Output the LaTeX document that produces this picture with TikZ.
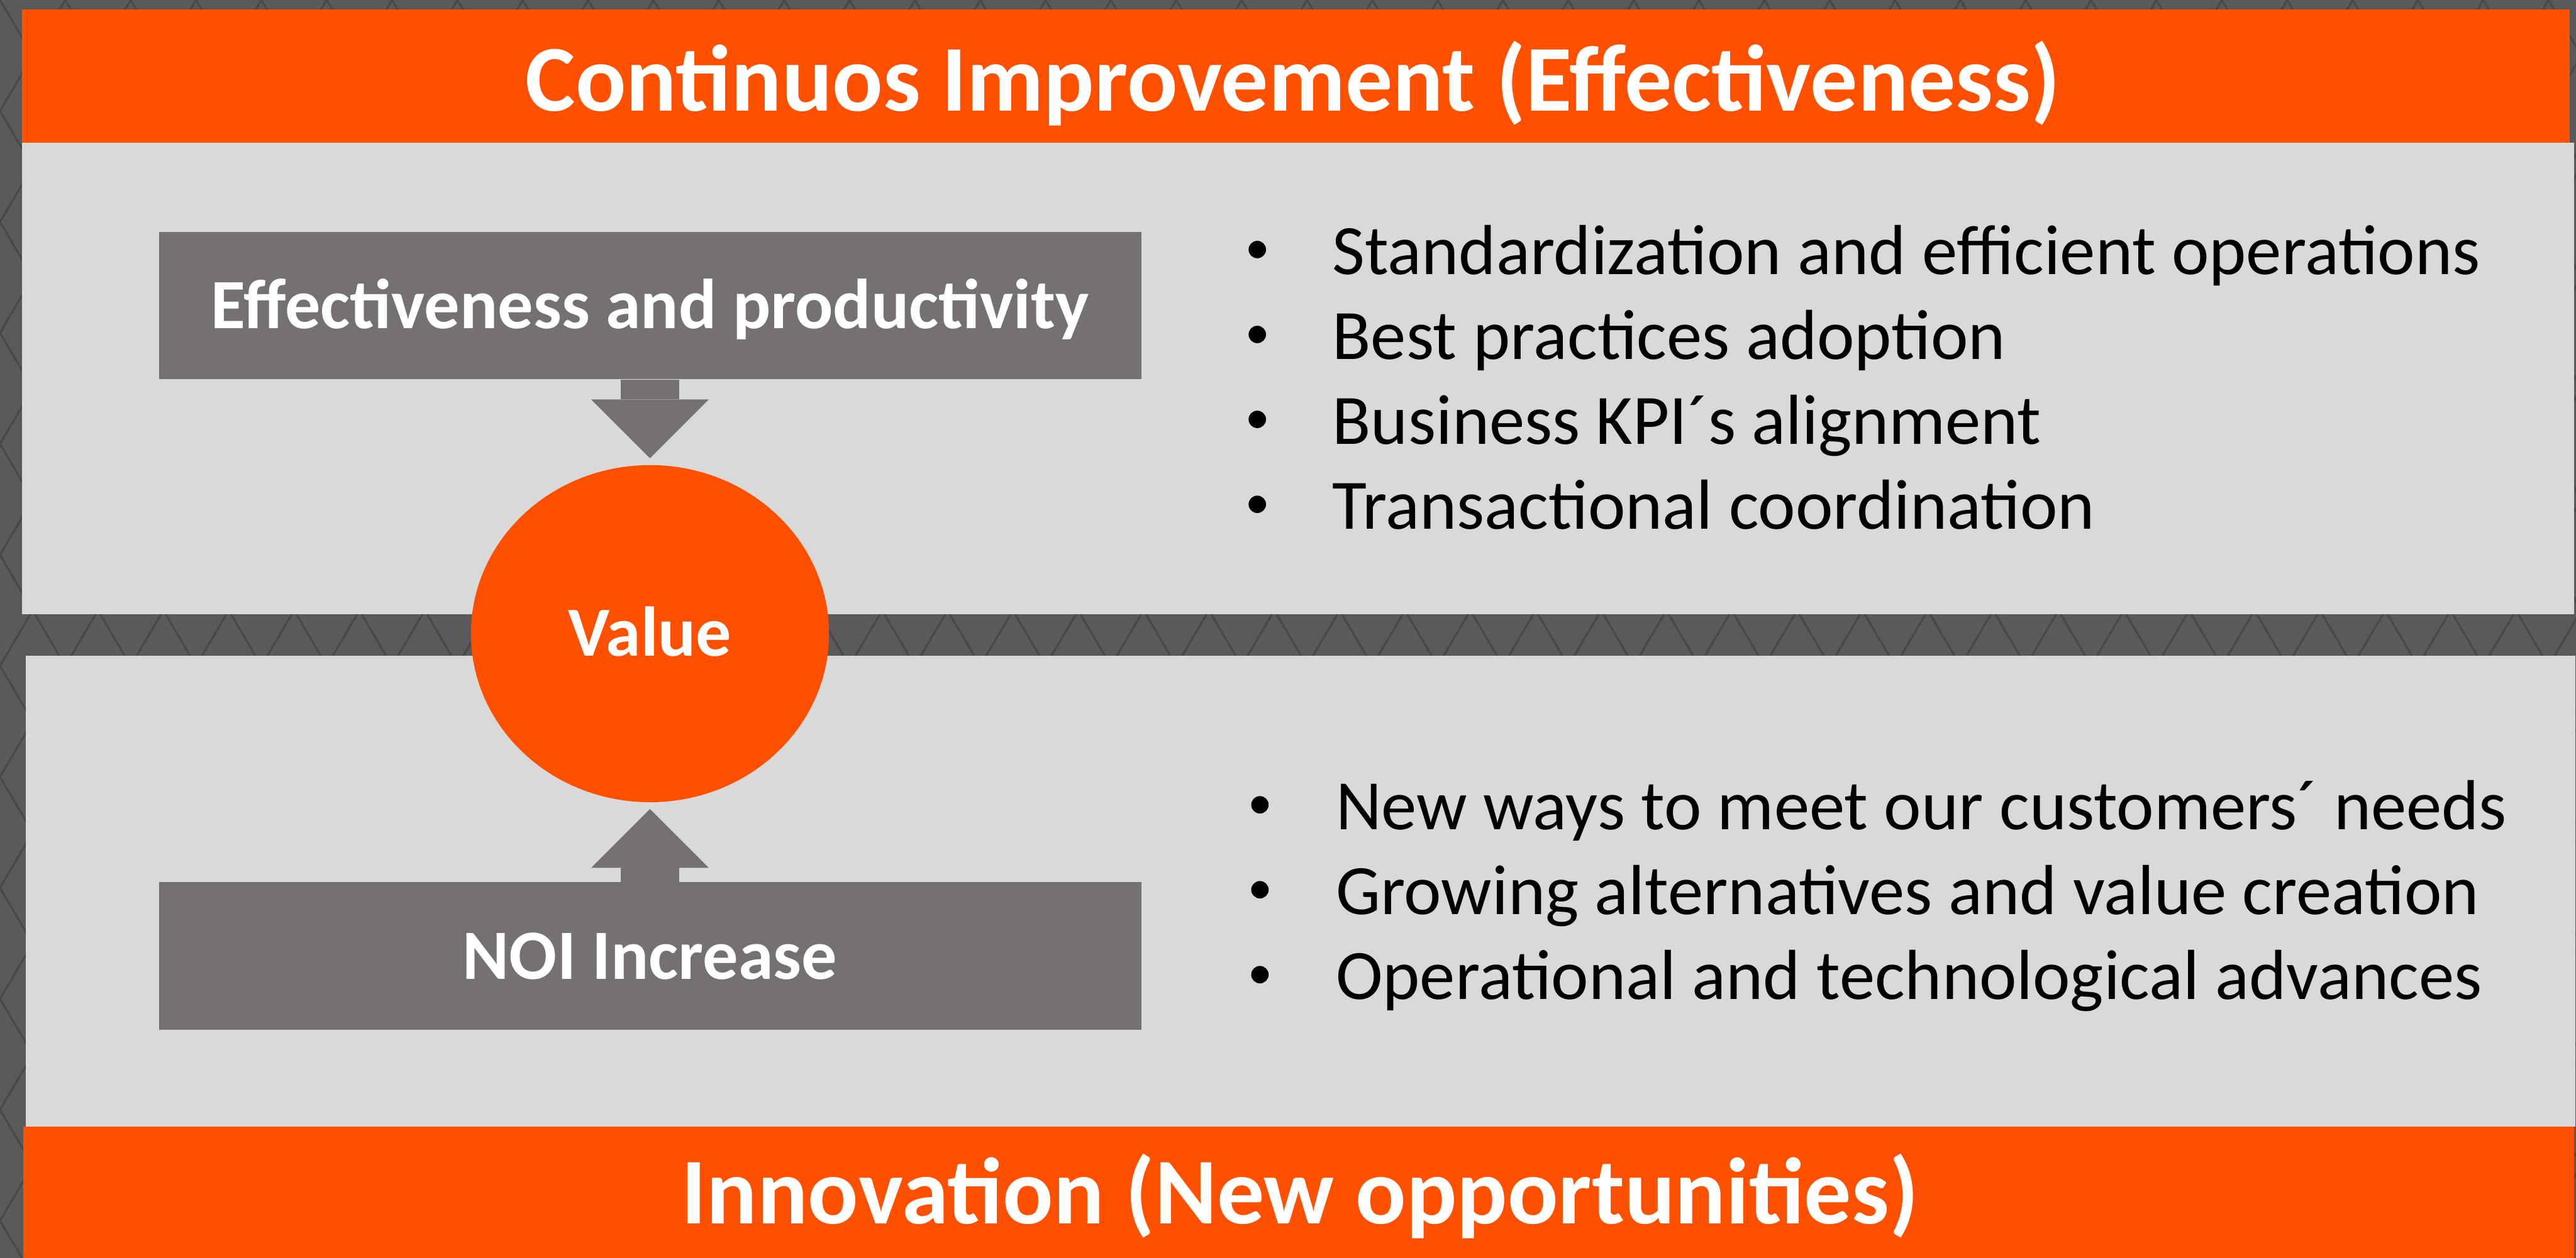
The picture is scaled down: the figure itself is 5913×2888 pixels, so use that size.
\documentclass[tikz,border=0pt]{standalone}
\usepackage{fontspec}
\setmainfont{Carlito}
\usetikzlibrary{arrows.meta,positioning,shapes.geometric}
\definecolor{slideorange}{HTML}{FF5000}
\definecolor{panelgray}{HTML}{D9D9D9}
\definecolor{boxgray}{HTML}{767171}
\definecolor{backdrop}{HTML}{5A5A5A}
\definecolor{hatch}{HTML}{484848}

\begin{document}
\begin{tikzpicture}[x=0.1mm, y=-0.1mm,
  band/.style={text=white, inner sep=0pt, text height=13.9mm, text depth=0pt,
    font=\bfseries\fontsize{61.6}{70}\selectfont},
  drivebox/.style={fill=boxgray, text=white, inner sep=0pt,
    minimum width=225.5mm, minimum height=33.9mm, text height=10.5mm, text depth=0pt,
    font=\bfseries\fontsize{46.2}{56}\selectfont},
  valuedot/.style={ellipse, fill=slideorange, text=white, inner sep=0pt,
    minimum width=82.2mm, minimum height=77.4mm, text height=10.2mm, text depth=0pt,
    font=\bfseries\fontsize{46}{55}\selectfont},
  push/.style={boxgray, line width=13.3mm, shorten >=1.5mm,
    -{Triangle[length=13.5mm, width=27mm, line width=0pt]}},
  bulletmark/.style={circle, fill=black, inner sep=0pt, minimum size=4mm},
  pointtext/.style={anchor=base west, font=\fontsize{46.3}{56}\selectfont}
]
  \useasboundingbox (0,0) rectangle (5913,2888);
  % dark backdrop with a lattice of struts
  \fill[backdrop] (0,0) rectangle (5913,2888);
  \begin{scope}
    \clip (0,0) rectangle (5913,2888);
    \foreach \x in {-1800,-1650,...,7700} {
      \draw[hatch, line width=0.45mm] (\x,0) -- ++(1700,2888);
      \draw[hatch, line width=0.45mm] (\x,0) -- ++(-1700,2888);
    }
  \end{scope}
  % panels and title bands
  \fill[panelgray] (50,328) rectangle (5908,1410);
  \fill[panelgray] (59,1505) rectangle (5912,2587);
  \fill[slideorange] (50,21) rectangle (5899,328);
  \fill[slideorange] (53,2587) rectangle (5908,2888);
  \node[band] (ci) at (2968,186) {Continuos Improvement (Effectiveness)};
  \node[band] (inno) at (2984,2740) {Innovation (New opportunities)};
  % drivers pushing into value
  \node[drivebox] (eff) at (1492,701.5) {Effectiveness and productivity};
  \node[valuedot] (val) at (1492,1455) {Value};
  \node[drivebox] (noi) at (1492,2195.5) {NOI Increase};
  \draw[push] (eff.south) -- (val.north);
  \draw[push] (noi.north) -- (val.south);
  % bullet lists
  \foreach \txt [count=\i] in {Standardization and efficient operations,
      Best practices adoption, Business KPI´s alignment, Transactional coordination} {
    \node[bulletmark] (ub\i) at (2886,378+195*\i) {};
    \node[pointtext] (ut\i) at (3046,435+195*\i) {\txt};
  }
  \foreach \txt [count=\i] in {New ways to meet our customers´ needs,
      Growing alternatives and value creation, Operational and technological advances} {
    \node[bulletmark] (lb\i) at (2892,1653+195*\i) {};
    \node[pointtext] (lt\i) at (3054,1710+195*\i) {\txt};
  }
\end{tikzpicture}
\end{document}
